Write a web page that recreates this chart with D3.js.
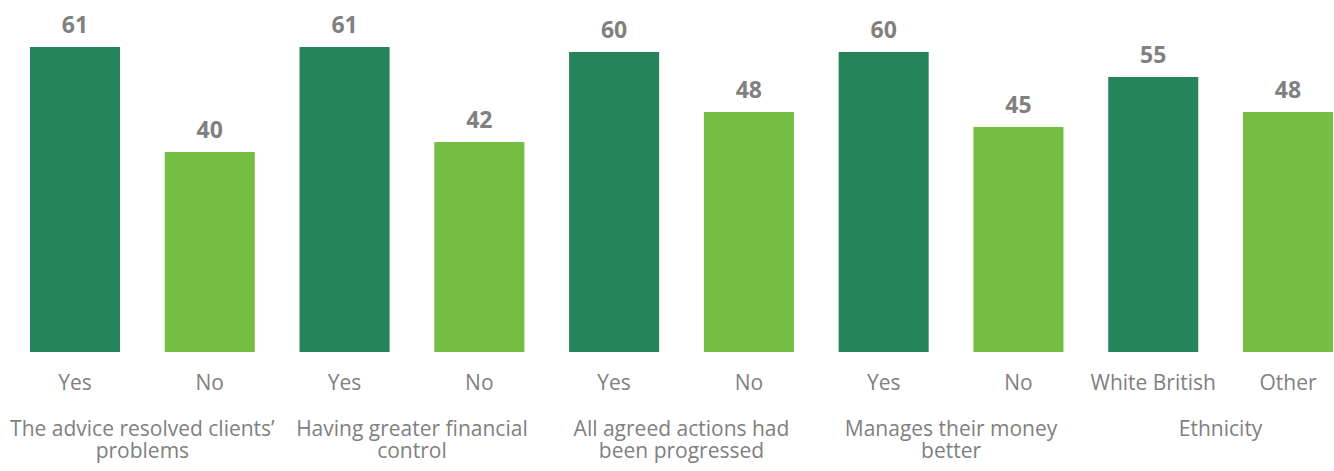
<!DOCTYPE html>
<html>
<head>
<meta charset="utf-8">
<script src="https://cdn.jsdelivr.net/npm/d3@7"></script>
<style>
  body { margin: 0; background: #fff; }
  svg text { font-family: "Open Sans", sans-serif; fill: #808080; }
</style>
</head>
<body>
<svg id="chart" width="1334" height="471"></svg>
<script>
const groups = [
  ['The advice resolved clients’', 'problems'],
  ['Having greater financial', 'control'],
  ['All agreed actions had', 'been progressed'],
  ['Manages their money', 'better'],
  ['Ethnicity']
];
const barLabels = ['Yes', 'No', 'Yes', 'No', 'Yes', 'No', 'Yes', 'No', 'White British', 'Other'];
const values = [61, 40, 61, 42, 60, 48, 60, 45, 55, 48];
const barGroup = [0, 0, 1, 1, 2, 2, 3, 3, 4, 4];

const COLORS = ['#26845A', '#74BE43'];

const svg = d3.select('#chart');

const keys = values.map((_d, i) => i);

const scaleX = d3.scaleBand()
  .domain(keys)
  .range([7.6, 1355.4])
  .paddingInner(0.332)
  .paddingOuter(0.166);

const scaleY = d3.scaleLinear()
  .domain([0, 70])
  .range([352, 2]);

// bars
svg.append('g')
  .attr('class', 'bars')
  .selectAll('rect')
  .data(keys)
  .enter()
  .append('rect')
  .attr('x', d => scaleX(d))
  .attr('width', scaleX.bandwidth())
  .attr('y', d => scaleY(values[d]))
  .attr('height', d => scaleY(0) - scaleY(values[d]))
  .attr('fill', d => COLORS[d % 2]);

// value labels
svg.append('g')
  .attr('class', 'value-labels')
  .selectAll('text')
  .data(keys)
  .enter()
  .append('text')
  .attr('x', d => scaleX(d) + scaleX.bandwidth() / 2)
  .attr('y', d => scaleY(values[d]) - 14)
  .attr('text-anchor', 'middle')
  .style('font-size', '23px')
  .style('font-weight', 'bold')
  .text(d => values[d]);

// bar labels
svg.append('g')
  .attr('class', 'bar-labels')
  .selectAll('text')
  .data(keys)
  .enter()
  .append('text')
  .attr('x', d => scaleX(d) + scaleX.bandwidth() / 2)
  .attr('y', 390)
  .attr('text-anchor', 'middle')
  .style('font-size', '21px')
  .text(d => barLabels[d]);

// group labels
const groupCenter = g => {
  const idx = keys.filter(k => barGroup[k] === g);
  const xs = idx.map(k => scaleX(k) + scaleX.bandwidth() / 2);
  return d3.mean(xs);
};

svg.append('g')
  .attr('class', 'group-labels')
  .selectAll('text')
  .data(groups)
  .enter()
  .append('text')
  .attr('text-anchor', 'middle')
  .attr('y', 436)
  .style('font-size', '21px')
  .each(function (lines, g) {
    d3.select(this)
      .selectAll('tspan')
      .data(lines)
      .enter()
      .append('tspan')
      .attr('x', groupCenter(g))
      .attr('dy', (_d, i) => i === 0 ? 0 : 22)
      .text(d => d);
  });
</script>
</body>
</html>
